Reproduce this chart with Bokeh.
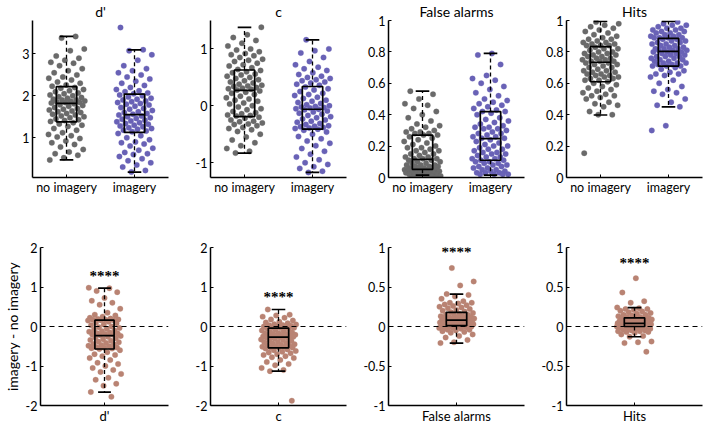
from bokeh.plotting import figure
from bokeh.models import Range1d, FixedTicker, CustomJSTickFormatter, Span
from bokeh.layouts import column, row
from bokeh.embed import file_html
from bokeh.resources import INLINE

# ---------------- data ----------------
measures = ["d'", "c", "False alarms", "Hits"]
conditions = ["no imagery", "imagery"]

d_no = [3.42, 3.38, 3.12, 3.08, 2.95, 2.9, 2.85, 2.8, 2.78, 2.72, 2.65, 2.6, 2.55, 2.5, 2.45, 2.42, 2.38, 2.33, 2.3, 2.26, 2.23,
        2.2, 2.18, 2.15, 2.12, 2.1, 2.07, 2.05, 2.02, 2.0, 1.98, 1.96, 1.94, 1.92, 1.9, 1.9, 1.88, 1.87, 1.86, 1.85, 1.84, 1.83,
        1.81, 1.79, 1.77, 1.75, 1.72, 1.7, 1.68, 1.66, 1.64, 1.62, 1.6, 1.58, 1.56, 1.54, 1.52, 1.5, 1.48, 1.45, 1.43, 1.41, 1.39,
        1.36, 1.33, 1.3, 1.27, 1.22, 1.18, 1.12, 1.08, 1.05, 1.02, 0.98, 0.92, 0.88, 0.84, 0.78, 0.72, 0.66, 0.62, 0.58, 0.52, 0.47]
d_im = [3.63, 3.10, 3.08, 2.98, 2.85, 2.72, 2.65, 2.6, 2.55, 2.5, 2.45, 2.4, 2.35, 2.3, 2.25, 2.2, 2.15, 2.12, 2.1, 2.07, 2.05,
        2.02, 2.0, 1.97, 1.94, 1.92, 1.9, 1.88, 1.86, 1.84, 1.82, 1.8, 1.78, 1.75, 1.72, 1.7, 1.68, 1.65, 1.62, 1.6, 1.58, 1.56,
        1.54, 1.52, 1.5, 1.48, 1.46, 1.44, 1.42, 1.4, 1.38, 1.36, 1.34, 1.32, 1.3, 1.28, 1.26, 1.24, 1.22, 1.2, 1.18, 1.16, 1.14,
        1.1, 1.05, 1.0, 0.95, 0.9, 0.88, 0.85, 0.8, 0.75, 0.7, 0.65, 0.62, 0.6, 0.55, 0.5, 0.45, 0.4, 0.35, 0.3, 0.22, 0.18]
c_no = [1.38, 1.25, 1.2, 1.15, 1.1, 1.05, 1.0, 0.98, 0.95, 0.92, 0.9, 0.88, 0.85, 0.82, 0.8, 0.78, 0.75, 0.72, 0.7, 0.67, 0.64,
        0.62, 0.6, 0.58, 0.56, 0.54, 0.52, 0.5, 0.48, 0.46, 0.44, 0.42, 0.4, 0.38, 0.36, 0.35, 0.34, 0.32, 0.31, 0.3, 0.29, 0.28,
        0.26, 0.24, 0.22, 0.2, 0.17, 0.14, 0.12, 0.1, 0.08, 0.05, 0.03, 0.0, -0.02, -0.05, -0.07, -0.1, -0.12, -0.14, -0.16, -0.17, -0.18,
        -0.2, -0.22, -0.25, -0.27, -0.28, -0.3, -0.32, -0.33, -0.35, -0.38, -0.4, -0.42, -0.45, -0.5, -0.55, -0.6, -0.65, -0.7, -0.75, -0.8, -0.83]
c_im = [1.16, 1.0, 0.97, 0.93, 0.85, 0.78, 0.72, 0.68, 0.65, 0.62, 0.58, 0.55, 0.52, 0.5, 0.48, 0.46, 0.44, 0.42, 0.4, 0.38, 0.36,
        0.33, 0.3, 0.28, 0.25, 0.22, 0.2, 0.18, 0.15, 0.13, 0.1, 0.08, 0.06, 0.04, 0.02, 0.0, -0.01, -0.02, -0.03, -0.04, -0.05, -0.06,
        -0.07, -0.09, -0.11, -0.13, -0.15, -0.17, -0.19, -0.21, -0.23, -0.25, -0.27, -0.29, -0.31, -0.33, -0.35, -0.36, -0.37, -0.38, -0.39, -0.4, -0.41,
        -0.43, -0.46, -0.5, -0.54, -0.58, -0.62, -0.66, -0.7, -0.75, -0.8, -0.85, -0.9, -0.95, -1.0, -1.03, -1.07, -1.1, -1.15, -1.17]
fa_no = [0.55, 0.53, 0.5, 0.47, 0.46, 0.44, 0.42, 0.4, 0.38, 0.36, 0.34, 0.33, 0.32, 0.31, 0.3, 0.29, 0.29, 0.28, 0.28, 0.27, 0.27,
         0.26, 0.25, 0.24, 0.23, 0.22, 0.21, 0.2, 0.19, 0.19, 0.18, 0.17, 0.17, 0.16, 0.15, 0.15, 0.14, 0.13, 0.13, 0.12, 0.12, 0.12,
         0.11, 0.11, 0.1, 0.1, 0.09, 0.09, 0.08, 0.08, 0.08, 0.07, 0.07, 0.07, 0.06, 0.06, 0.06, 0.06, 0.05, 0.05, 0.05, 0.05, 0.05,
         0.05, 0.04, 0.04, 0.04, 0.04, 0.03, 0.03, 0.03, 0.03, 0.02, 0.02, 0.02, 0.02, 0.02, 0.01, 0.01, 0.01, 0.01, 0.0, 0.0, 0.0]
fa_im = [0.79, 0.78, 0.72, 0.65, 0.63, 0.62, 0.6, 0.58, 0.56, 0.54, 0.52, 0.5, 0.49, 0.48, 0.47, 0.46, 0.45, 0.44, 0.43, 0.42, 0.42,
         0.41, 0.4, 0.38, 0.37, 0.36, 0.35, 0.34, 0.33, 0.32, 0.32, 0.31, 0.31, 0.3, 0.29, 0.28, 0.28, 0.27, 0.26, 0.26, 0.25, 0.25,
         0.24, 0.23, 0.22, 0.21, 0.2, 0.2, 0.19, 0.18, 0.18, 0.17, 0.16, 0.16, 0.15, 0.15, 0.14, 0.13, 0.13, 0.12, 0.12, 0.11, 0.11,
         0.1, 0.1, 0.09, 0.09, 0.08, 0.08, 0.07, 0.07, 0.06, 0.06, 0.05, 0.05, 0.04, 0.04, 0.03, 0.03, 0.03, 0.02, 0.02, 0.02, 0.02]
hit_no = [0.99, 0.98, 0.97, 0.96, 0.95, 0.94, 0.93, 0.92, 0.91, 0.9, 0.89, 0.88, 0.88, 0.87, 0.86, 0.86, 0.85, 0.85, 0.84, 0.84, 0.84,
          0.83, 0.82, 0.82, 0.81, 0.8, 0.8, 0.79, 0.79, 0.78, 0.78, 0.77, 0.77, 0.76, 0.76, 0.75, 0.75, 0.74, 0.74, 0.74, 0.73, 0.73,
          0.72, 0.72, 0.71, 0.7, 0.7, 0.69, 0.68, 0.68, 0.67, 0.67, 0.66, 0.66, 0.65, 0.65, 0.64, 0.64, 0.63, 0.63, 0.62, 0.62, 0.61,
          0.6, 0.59, 0.58, 0.57, 0.56, 0.55, 0.54, 0.53, 0.52, 0.52, 0.51, 0.5, 0.48, 0.47, 0.46, 0.45, 0.42, 0.4, 0.4, 0.155]
hit_im = [0.99, 0.98, 0.97, 0.97, 0.96, 0.95, 0.95, 0.94, 0.94, 0.93, 0.93, 0.92, 0.92, 0.91, 0.91, 0.9, 0.9, 0.89, 0.89, 0.89, 0.89,
          0.88, 0.88, 0.87, 0.87, 0.86, 0.86, 0.85, 0.85, 0.84, 0.84, 0.83, 0.83, 0.82, 0.82, 0.82, 0.81, 0.81, 0.81, 0.8, 0.8, 0.8,
          0.79, 0.79, 0.78, 0.78, 0.77, 0.77, 0.77, 0.76, 0.76, 0.75, 0.75, 0.74, 0.74, 0.73, 0.73, 0.73, 0.72, 0.72, 0.71, 0.71, 0.71,
          0.7, 0.69, 0.68, 0.67, 0.66, 0.66, 0.65, 0.64, 0.62, 0.6, 0.58, 0.56, 0.55, 0.54, 0.53, 0.5, 0.48, 0.46, 0.45, 0.33, 0.30]

diff_d = [0.98, 0.97, 0.9, 0.87, 0.72, 0.65, 0.6, 0.55, 0.45, 0.35, 0.3, 0.28, 0.25, 0.22, 0.2, 0.19, 0.18, 0.17, 0.17, 0.16, 0.16,
          0.15, 0.12, 0.1, 0.08, 0.05, 0.03, 0.0, -0.02, -0.04, -0.06, -0.08, -0.1, -0.12, -0.13, -0.15, -0.17, -0.18, -0.19, -0.2, -0.21, -0.22,
          -0.24, -0.26, -0.28, -0.3, -0.32, -0.34, -0.36, -0.38, -0.4, -0.42, -0.44, -0.45, -0.47, -0.49, -0.5, -0.52, -0.53, -0.54, -0.55, -0.56, -0.57,
          -0.6, -0.65, -0.7, -0.72, -0.75, -0.8, -0.85, -0.92, -0.95, -1.0, -1.05, -1.1, -1.15, -1.2, -1.3, -1.35, -1.45, -1.5, -1.66, -1.78]
diff_c = [0.43, 0.3, 0.28, 0.25, 0.22, 0.18, 0.15, 0.12, 0.1, 0.08, 0.06, 0.05, 0.04, 0.03, 0.02, 0.01, 0.0, -0.01, -0.02, -0.03, -0.04,
          -0.05, -0.07, -0.09, -0.1, -0.12, -0.14, -0.15, -0.17, -0.18, -0.19, -0.2, -0.21, -0.22, -0.23, -0.24, -0.24, -0.25, -0.25, -0.26, -0.26, -0.27,
          -0.28, -0.3, -0.31, -0.33, -0.34, -0.36, -0.37, -0.39, -0.4, -0.42, -0.43, -0.45, -0.46, -0.48, -0.49, -0.5, -0.51, -0.52, -0.53, -0.53, -0.54,
          -0.56, -0.58, -0.6, -0.62, -0.64, -0.66, -0.68, -0.7, -0.72, -0.75, -0.78, -0.8, -0.85, -0.9, -0.95, -0.98, -1.05, -1.1, -1.13, -1.88]
diff_fa = [0.74, 0.57, 0.52, 0.41, 0.4, 0.38, 0.35, 0.32, 0.3, 0.3, 0.29, 0.28, 0.27, 0.26, 0.25, 0.24, 0.23, 0.22, 0.21, 0.2, 0.19,
           0.18, 0.17, 0.16, 0.15, 0.15, 0.14, 0.13, 0.13, 0.12, 0.12, 0.11, 0.11, 0.1, 0.1, 0.1, 0.09, 0.09, 0.09, 0.08, 0.08, 0.08,
           0.07, 0.07, 0.07, 0.06, 0.06, 0.06, 0.05, 0.05, 0.05, 0.04, 0.04, 0.04, 0.03, 0.03, 0.03, 0.02, 0.02, 0.02, 0.01, 0.01, 0.01,
           0.0, 0.0, 0.0, -0.01, -0.01, -0.02, -0.02, -0.03, -0.04, -0.04, -0.05, -0.06, -0.07, -0.08, -0.1, -0.12, -0.14, -0.17, -0.2, -0.21]
diff_hit = [0.61, 0.43, 0.32, 0.3, 0.24, 0.23, 0.22, 0.22, 0.21, 0.2, 0.19, 0.18, 0.17, 0.16, 0.15, 0.15, 0.14, 0.13, 0.12, 0.12, 0.11,
            0.11, 0.1, 0.1, 0.09, 0.09, 0.08, 0.08, 0.07, 0.07, 0.07, 0.06, 0.06, 0.06, 0.05, 0.05, 0.05, 0.05, 0.04, 0.04, 0.04, 0.04,
            0.04, 0.03, 0.03, 0.03, 0.03, 0.02, 0.02, 0.02, 0.02, 0.02, 0.01, 0.01, 0.01, 0.01, 0.01, 0.0, 0.0, 0.0, 0.0, 0.0, 0.0,
            -0.01, -0.01, -0.02, -0.02, -0.03, -0.03, -0.04, -0.05, -0.05, -0.06, -0.06, -0.07, -0.07, -0.08, -0.1, -0.12, -0.13, -0.19, -0.2, -0.21, -0.32]

# box statistics: [whisker low, q1, median, q3, whisker high]
box_top = {
    "d'": [[0.47, 1.38, 1.82, 2.22, 3.42], [0.18, 1.13, 1.55, 2.04, 3.10]],
    "c": [[-0.83, -0.19, 0.27, 0.63, 1.38], [-1.17, -0.41, -0.06, 0.34, 1.16]],
    "False alarms": [[0.015, 0.052, 0.116, 0.27, 0.55], [0.015, 0.11, 0.247, 0.42, 0.79]],
    "Hits": [[0.398, 0.61, 0.734, 0.834, 0.994], [0.45, 0.71, 0.803, 0.886, 0.994]],
}
box_diff = {
    "d'": [-1.66, -0.57, -0.23, 0.16, 0.97],
    "c": [-1.13, -0.54, -0.27, -0.04, 0.43],
    "False alarms": [-0.21, 0.01, 0.08, 0.18, 0.41],
    "Hits": [-0.13, 0.0, 0.04, 0.11, 0.24],
}
top_values = {"d'": [d_no, d_im], "c": [c_no, c_im], "False alarms": [fa_no, fa_im], "Hits": [hit_no, hit_im]}
diff_values = {"d'": diff_d, "c": diff_c, "False alarms": diff_fa, "Hits": diff_hit}
significance = ["****", "****", "****", "****"]
sig_pos = {"d'": 1.38, "c": 0.84, "False alarms": 0.99, "Hits": 0.86}

top_ylim = {"d'": (0.05, 3.8), "c": (-1.26, 1.5), "False alarms": (0, 1), "Hits": (0, 1)}
top_ticks = {"d'": [1, 2, 3], "c": [-1, 0, 1], "False alarms": [0, 0.2, 0.4, 0.6, 0.8, 1], "Hits": [0, 0.2, 0.4, 0.6, 0.8, 1]}
bot_ylim = {"d'": (-2, 2), "c": (-2, 2), "False alarms": (-1, 1), "Hits": (-1, 1)}
bot_ticks = {"d'": [-2, -1, 0, 1, 2], "c": [-2, -1, 0, 1, 2], "False alarms": [-1, -0.5, 0, 0.5, 1], "Hits": [-1, -0.5, 0, 0.5, 1]}

# ---------------- style ----------------
FONT = "Lato"
GRAY = "#6a6a6a"
PURPLE = "#6962b6"
BROWN = "#b98373"

fmt = CustomJSTickFormatter(code="return String(Math.round(tick*100)/100);")


def jitter(n, spread, phase):
    return [(((i + 1) * 0.6180339887 + phase) % 1.0 - 0.5) * 2 * spread for i in range(n)]


def style(p, yt, xt, xlabels, xfont):
    p.outline_line_color = None
    p.xgrid.visible = False
    p.ygrid.visible = False
    p.background_fill_color = "white"
    p.border_fill_color = "white"
    for ax in (p.xaxis[0], p.yaxis[0]):
        ax.axis_line_width = 1.5
        ax.axis_line_color = "black"
        ax.major_tick_in = 3
        ax.major_tick_out = 0
        ax.major_tick_line_color = "black"
        ax.major_tick_line_width = 1
        ax.minor_tick_line_color = None
        ax.major_label_text_font = FONT
        ax.major_label_text_color = "black"
    p.yaxis[0].ticker = FixedTicker(ticks=yt)
    p.yaxis[0].formatter = fmt
    p.yaxis[0].major_label_text_font_size = "12.5px"
    p.yaxis[0].major_label_standoff = 3
    p.xaxis[0].ticker = FixedTicker(ticks=xt)
    p.xaxis[0].major_label_overrides = {x: l for x, l in zip(xt, xlabels)}
    p.xaxis[0].major_label_text_font_size = xfont
    p.xaxis[0].major_label_standoff = 2


def draw_box(p, x, stats, half, cap):
    lo, q1, med, q3, hi = stats
    p.segment(x0=[x, x], y0=[q3, q1], x1=[x, x], y1=[hi, lo], line_color="black", line_width=1.3, line_dash="4 3")
    p.segment(x0=[x - cap, x - cap], y0=[hi, lo], x1=[x + cap, x + cap], y1=[hi, lo], line_color="black", line_width=1.7)
    p.quad(left=[x - half], right=[x + half], bottom=[q1], top=[q3], fill_alpha=0, line_color="black", line_width=1.7)
    p.segment(x0=[x - half], y0=[med], x1=[x + half], y1=[med], line_color="black", line_width=1.7)


widths = [172, 178, 178, 176]
lefts = [32, 38, 38, 38]
rights = [4, 4, 4, 2]
TOP_H = 237
BOT_H = 189

top_figs = []
bot_figs = []
for k, m in enumerate(measures):
    p = figure(width=widths[k], height=TOP_H, x_range=Range1d(0.5, 2.5), y_range=Range1d(*top_ylim[m]),
               output_backend="svg", toolbar_location=None, title=m,
               min_border_left=lefts[k], min_border_right=rights[k], min_border_top=20, min_border_bottom=60)
    p.title.text_font = FONT
    p.title.text_font_size = "14px"
    p.title.text_font_style = "normal"
    p.title.text_color = "black"
    p.title.align = "center"
    p.title.standoff = 1
    p.title.offset = 0
    style(p, top_ticks[m], [1, 2], conditions, "12.5px")
    cols = [GRAY, PURPLE]
    for j in range(2):
        vals = top_values[m][j]
        xs = [j + 1 + o for o in jitter(len(vals), 0.27, 0.13 + 0.37 * j + 0.21 * k)]
        p.scatter(x=xs, y=vals, size=5.5, fill_color=cols[j], line_color=cols[j], line_width=0.3)
    for j in range(2):
        draw_box(p, j + 1, box_top[m][j], 0.15, 0.1)
    top_figs.append(p)

    q = figure(width=widths[k], height=BOT_H, x_range=Range1d(0.5, 1.5), y_range=Range1d(*bot_ylim[m]),
               output_backend="svg", toolbar_location=None,
               min_border_left=lefts[k], min_border_right=rights[k], min_border_top=10, min_border_bottom=17)
    style(q, bot_ticks[m], [1], [m], "13px")
    q.add_layout(Span(location=0, dimension="width", line_color="black", line_width=1.1, line_dash="5 4"))
    vals = diff_values[m]
    xs = [1 + o for o in jitter(len(vals), 0.13, 0.41 + 0.17 * k)]
    q.scatter(x=xs, y=vals, size=5.5, fill_color=BROWN, line_color=BROWN, line_width=0.3)
    draw_box(q, 1, box_diff[m], 0.075, 0.05)
    q.text(x=[1], y=[sig_pos[m]], text=[significance[k]], text_align="center", text_baseline="middle",
           text_font=FONT, text_font_size="15px", text_font_style="bold", text_color="black", y_offset=4)
    if k == 0:
        q.yaxis[0].axis_label = "imagery - no imagery"
        q.yaxis[0].axis_label_text_font = FONT
        q.yaxis[0].axis_label_text_font_size = "14px"
        q.yaxis[0].axis_label_text_font_style = "normal"
        q.yaxis[0].axis_label_text_color = "black"
        q.yaxis[0].axis_label_standoff = 2
    bot_figs.append(q)

layout = column(row(*top_figs, spacing=0), row(*bot_figs, spacing=0), spacing=0)
open("out.html", "w").write(file_html(layout, INLINE))
